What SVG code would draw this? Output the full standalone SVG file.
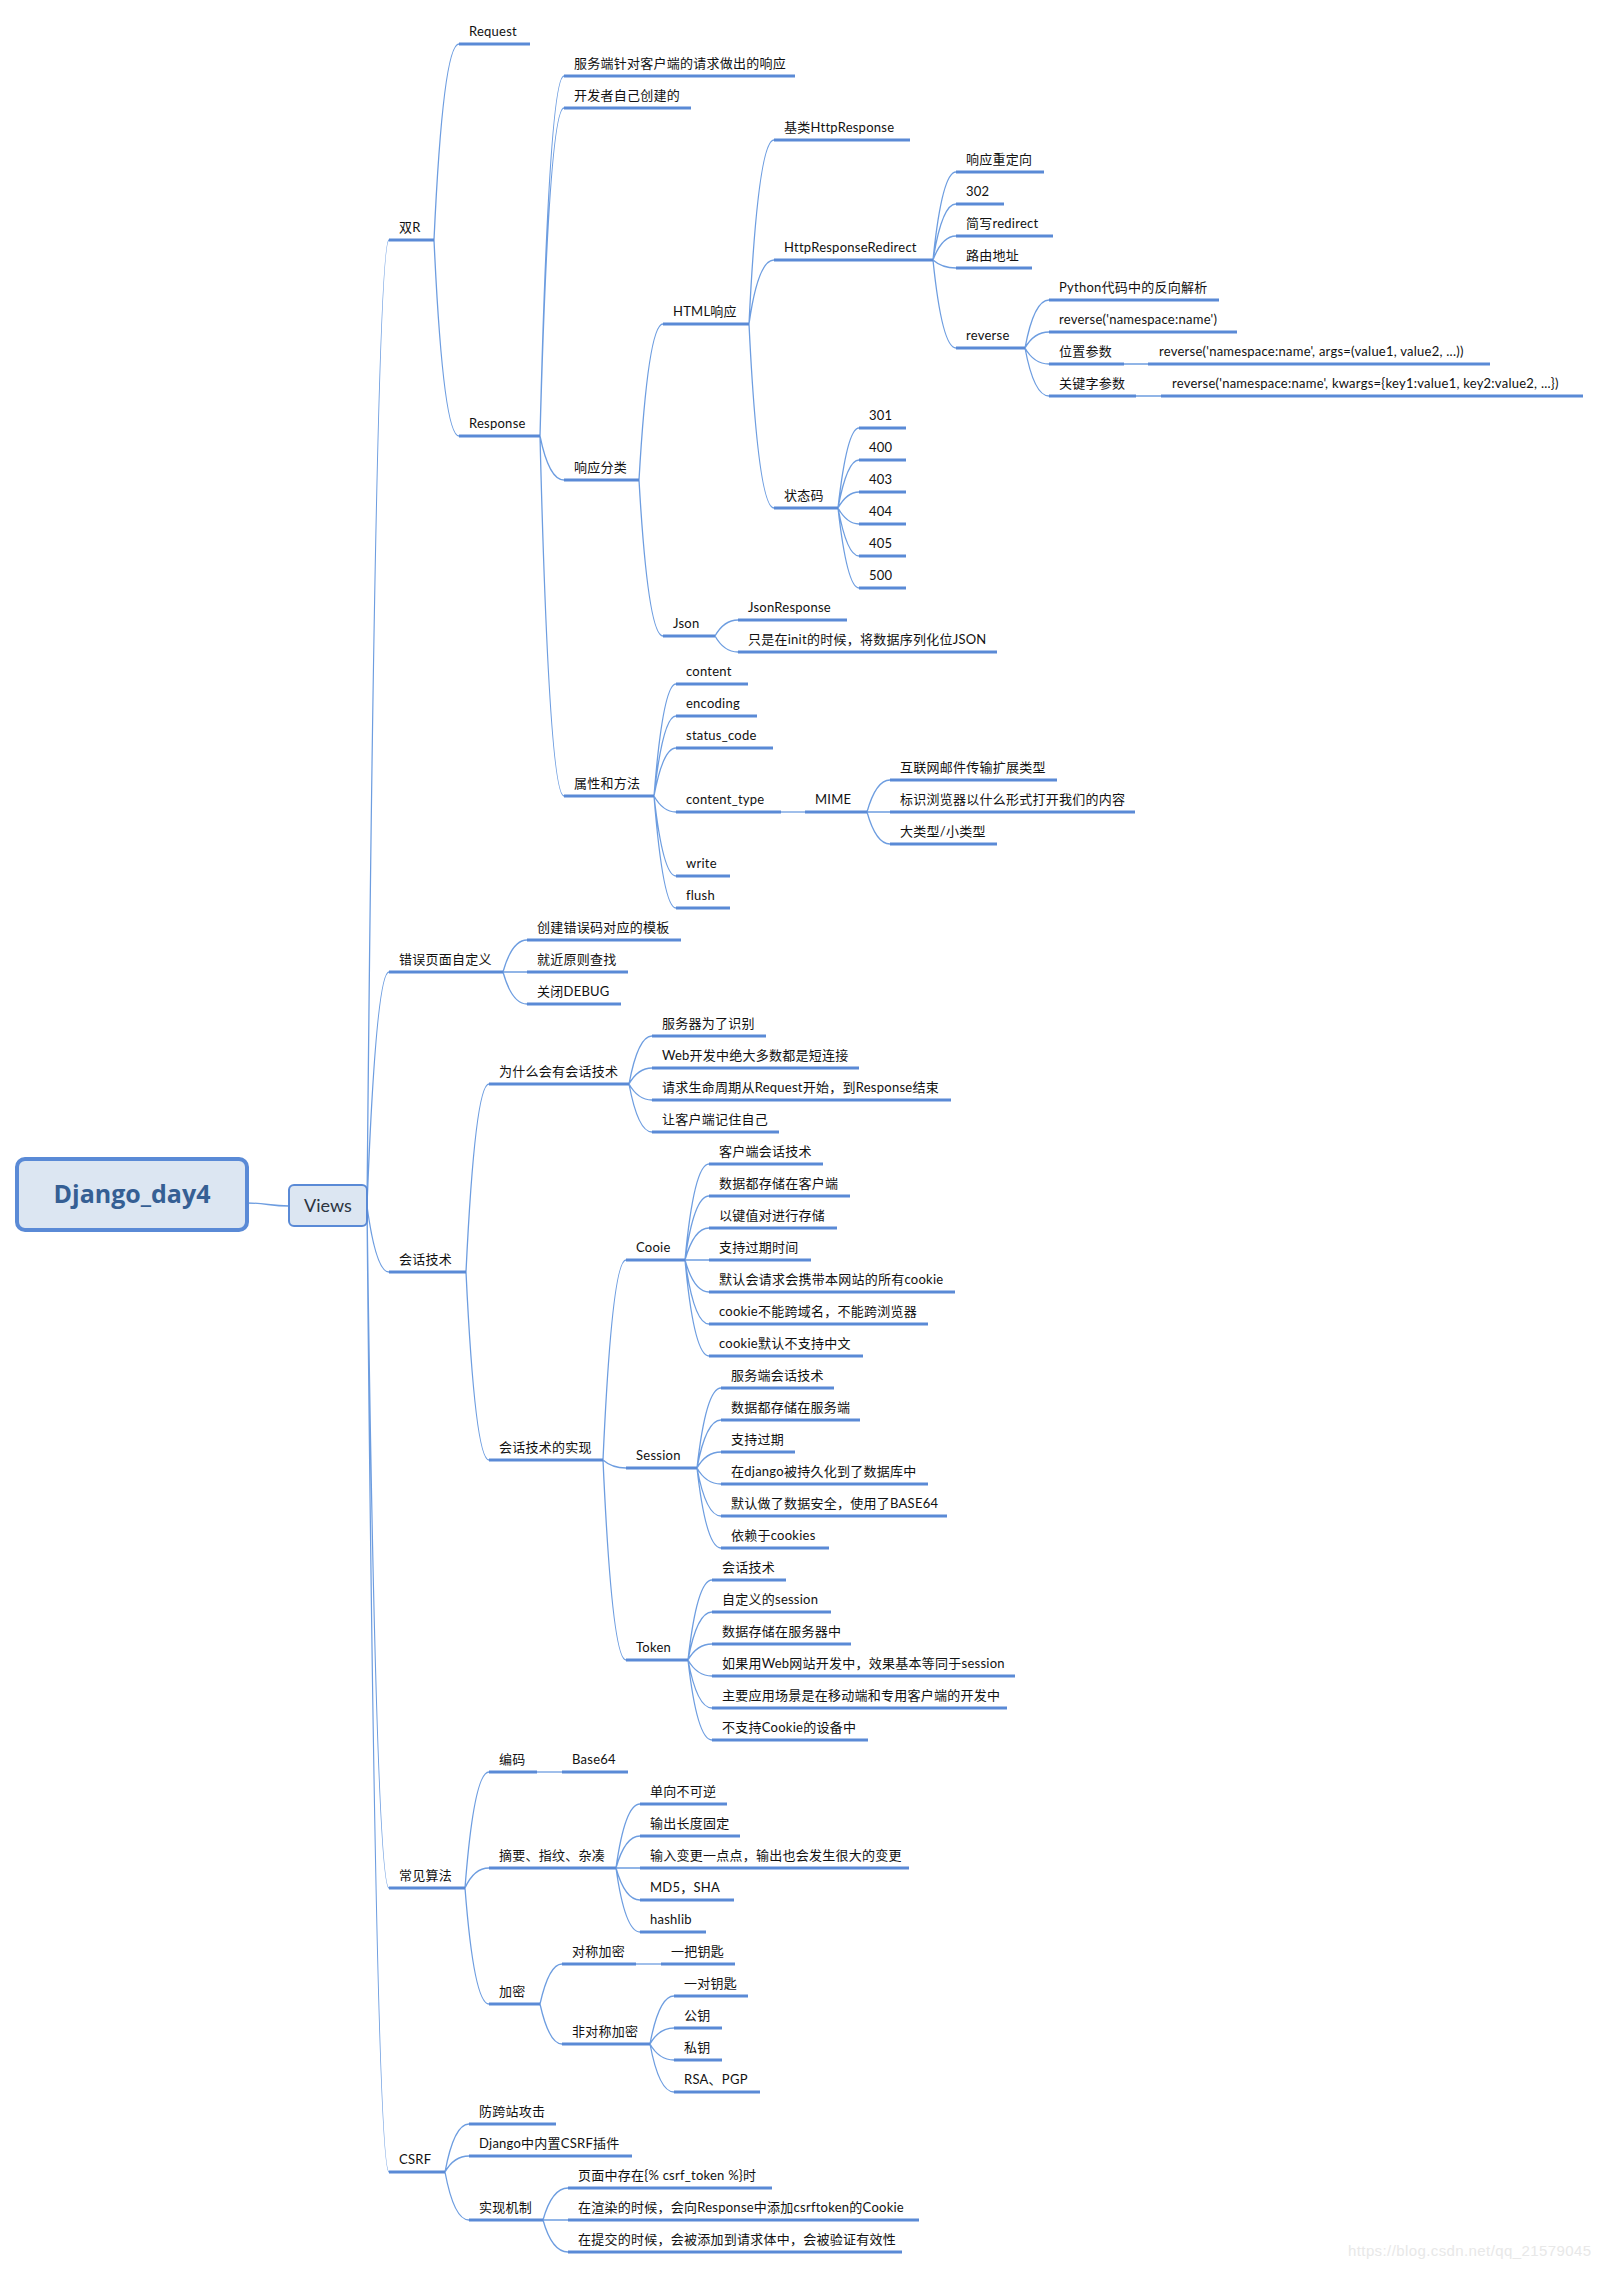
<svg xmlns="http://www.w3.org/2000/svg" width="1601" height="2269" viewBox="0 0 1601 2269">
<style>
.u{stroke:#5a8ad6;stroke-width:3;fill:none}
.c{fill:none;stroke:#6d9de0;stroke-width:1.3}
.t{font-family:Lato,"Noto Sans CJK SC",sans-serif;font-size:13px;letter-spacing:0.25px;fill:#111}
.root{fill:#dce6f2;stroke:#5a8ad6;stroke-width:4}
.main{fill:#dce6f2;stroke:#5a8ad6;stroke-width:2}
</style>
<rect width="1601" height="2269" fill="#fff"/>
<g id="connectors">
<path class="c" d="M247 1203C266 1203 270 1206 289 1206"/>
<path class="c" d="M367 1206Q376 240 389 240M367 1206Q376 972 389 972M367 1206Q376 1272 389 1272M367 1206Q376 1888 389 1888M367 1206Q376 2172 389 2172"/>
<path class="c" d="M434 240Q443 44 459 44M434 240Q443 436 459 436"/>
<path class="c" d="M540 436Q549 76 564 76M540 436Q549 108 564 108M540 436Q549 480 564 480M540 436Q549 796 564 796"/>
<path class="c" d="M639 480Q648 324 663 324M639 480Q648 636 663 636"/>
<path class="c" d="M749 324Q758 140 774 140M749 324Q758 260 774 260M749 324Q758 508 774 508"/>
<path class="c" d="M933 260Q942 172 956 172M933 260Q942 204 956 204M933 260Q942 236 956 236M933 260Q942 268 956 268M933 260Q942 348 956 348"/>
<path class="c" d="M1025 348Q1034 300 1049 300M1025 348Q1034 332 1049 332M1025 348Q1034 364 1049 364M1025 348Q1034 396 1049 396"/>
<path class="c" d="M1124 364L1148 364M1136 396L1161 396"/>
<path class="c" d="M838 508Q847 428 859 428M838 508Q847 460 859 460M838 508Q847 492 859 492M838 508Q847 524 859 524M838 508Q847 556 859 556M838 508Q847 588 859 588"/>
<path class="c" d="M715 636Q724 620 738 620M715 636Q724 652 738 652"/>
<path class="c" d="M654 796Q663 684 676 684M654 796Q663 716 676 716M654 796Q663 748 676 748M654 796Q663 812 676 812M654 796Q663 876 676 876M654 796Q663 908 676 908"/>
<path class="c" d="M781 812L805 812"/>
<path class="c" d="M867 812Q876 780 890 780M867 812L890 812M867 812Q876 844 890 844"/>
<path class="c" d="M503 972Q512 940 527 940M503 972L527 972M503 972Q512 1004 527 1004"/>
<path class="c" d="M466 1272Q475 1084 489 1084M466 1272Q475 1460 489 1460"/>
<path class="c" d="M629 1084Q638 1036 652 1036M629 1084Q638 1068 652 1068M629 1084Q638 1100 652 1100M629 1084Q638 1132 652 1132"/>
<path class="c" d="M603 1460Q612 1260 626 1260M603 1460Q612 1468 626 1468M603 1460Q612 1660 626 1660"/>
<path class="c" d="M685 1260Q694 1164 709 1164M685 1260Q694 1196 709 1196M685 1260Q694 1228 709 1228M685 1260L709 1260M685 1260Q694 1292 709 1292M685 1260Q694 1324 709 1324M685 1260Q694 1356 709 1356"/>
<path class="c" d="M697 1468Q706 1388 721 1388M697 1468Q706 1420 721 1420M697 1468Q706 1452 721 1452M697 1468Q706 1484 721 1484M697 1468Q706 1516 721 1516M697 1468Q706 1548 721 1548"/>
<path class="c" d="M688 1660Q697 1580 712 1580M688 1660Q697 1612 712 1612M688 1660Q697 1644 712 1644M688 1660Q697 1676 712 1676M688 1660Q697 1708 712 1708M688 1660Q697 1740 712 1740"/>
<path class="c" d="M465 1888Q474 1772 489 1772M465 1888Q474 1868 489 1868M465 1888Q474 2004 489 2004"/>
<path class="c" d="M537 1772L562 1772"/>
<path class="c" d="M616 1868Q625 1804 640 1804M616 1868Q625 1836 640 1836M616 1868L640 1868M616 1868Q625 1900 640 1900M616 1868Q625 1932 640 1932"/>
<path class="c" d="M540 2004Q549 1964 562 1964M540 2004Q549 2044 562 2044"/>
<path class="c" d="M636 1964L661 1964"/>
<path class="c" d="M650 2044Q659 1996 674 1996M650 2044Q659 2028 674 2028M650 2044Q659 2060 674 2060M650 2044Q659 2092 674 2092"/>
<path class="c" d="M445 2172Q454 2124 469 2124M445 2172Q454 2156 469 2156M445 2172Q454 2220 469 2220"/>
<path class="c" d="M543 2220Q552 2188 568 2188M543 2220L568 2220M543 2220Q552 2252 568 2252"/>
</g>
<g id="root"><rect class="root" x="17" y="1159" width="230" height="71" rx="8"/><text x="132" y="1203" text-anchor="middle" style="font-family:'Open Sans','Noto Sans CJK SC',sans-serif;font-size:25px;font-weight:bold;fill:#355f94">Django_day4</text></g>
<g id="views"><rect class="main" x="289" y="1185" width="78" height="41" rx="5"/><text x="328" y="1212" text-anchor="middle" style="font-family:Lato,'Noto Sans CJK SC',sans-serif;font-size:18px;fill:#2b3440">Views</text></g>
<g id="n-shuangR"><path class="u" d="M389 240H434"/><text class="t" x="399" y="232">双R</text></g>
<g id="n-request"><path class="u" d="M459 44H530"/><text class="t" x="469" y="36">Request</text></g>
<g id="n-response"><path class="u" d="M459 436H540"/><text class="t" x="469" y="428">Response</text></g>
<g id="n-r1"><path class="u" d="M564 76H795"/><text class="t" x="574" y="68">服务端针对客户端的请求做出的响应</text></g>
<g id="n-r2"><path class="u" d="M564 108H691"/><text class="t" x="574" y="100">开发者自己创建的</text></g>
<g id="n-xyfl"><path class="u" d="M564 480H639"/><text class="t" x="574" y="472">响应分类</text></g>
<g id="n-sxff"><path class="u" d="M564 796H654"/><text class="t" x="574" y="788">属性和方法</text></g>
<g id="n-html"><path class="u" d="M663 324H749"/><text class="t" x="673" y="316">HTML响应</text></g>
<g id="n-json"><path class="u" d="M663 636H715"/><text class="t" x="673" y="628">Json</text></g>
<g id="n-base"><path class="u" d="M774 140H910"/><text class="t" x="784" y="132">基类HttpResponse</text></g>
<g id="n-hrr"><path class="u" d="M774 260H933"/><text class="t" x="784" y="252">HttpResponseRedirect</text></g>
<g id="n-ztm"><path class="u" d="M774 508H838"/><text class="t" x="784" y="500">状态码</text></g>
<g id="n-h1"><path class="u" d="M956 172H1044"/><text class="t" x="966" y="164">响应重定向</text></g>
<g id="n-h2"><path class="u" d="M956 204H1004"/><text class="t" x="966" y="196">302</text></g>
<g id="n-h3"><path class="u" d="M956 236H1053"/><text class="t" x="966" y="228">简写redirect</text></g>
<g id="n-h4"><path class="u" d="M956 268H1032"/><text class="t" x="966" y="260">路由地址</text></g>
<g id="n-reverse"><path class="u" d="M956 348H1025"/><text class="t" x="966" y="340">reverse</text></g>
<g id="n-rv1"><path class="u" d="M1049 300H1219"/><text class="t" x="1059" y="292">Python代码中的反向解析</text></g>
<g id="n-rv2"><path class="u" d="M1049 332H1237"/><text class="t" x="1059" y="324">reverse('namespace:name')</text></g>
<g id="n-rv3"><path class="u" d="M1049 364H1124"/><text class="t" x="1059" y="356">位置参数</text></g>
<g id="n-rv4"><path class="u" d="M1049 396H1136"/><text class="t" x="1059" y="388">关键字参数</text></g>
<g id="n-rv3a"><path class="u" d="M1148 364H1490"/><text class="t" x="1159" y="356">reverse('namespace:name', args=(value1, value2, ...))</text></g>
<g id="n-rv4a"><path class="u" d="M1161 396H1583"/><text class="t" x="1172" y="388">reverse('namespace:name', kwargs={key1:value1, key2:value2, ...})</text></g>
<g id="n-s301"><path class="u" d="M859 428H906"/><text class="t" x="869" y="420">301</text></g>
<g id="n-s400"><path class="u" d="M859 460H906"/><text class="t" x="869" y="452">400</text></g>
<g id="n-s403"><path class="u" d="M859 492H906"/><text class="t" x="869" y="484">403</text></g>
<g id="n-s404"><path class="u" d="M859 524H906"/><text class="t" x="869" y="516">404</text></g>
<g id="n-s405"><path class="u" d="M859 556H906"/><text class="t" x="869" y="548">405</text></g>
<g id="n-s500"><path class="u" d="M859 588H906"/><text class="t" x="869" y="580">500</text></g>
<g id="n-j1"><path class="u" d="M738 620H847"/><text class="t" x="748" y="612">JsonResponse</text></g>
<g id="n-j2"><path class="u" d="M738 652H997"/><text class="t" x="748" y="644">只是在init的时候，将数据序列化位JSON</text></g>
<g id="n-a1"><path class="u" d="M676 684H748"/><text class="t" x="686" y="676">content</text></g>
<g id="n-a2"><path class="u" d="M676 716H757"/><text class="t" x="686" y="708">encoding</text></g>
<g id="n-a3"><path class="u" d="M676 748H773"/><text class="t" x="686" y="740">status_code</text></g>
<g id="n-a4"><path class="u" d="M676 812H781"/><text class="t" x="686" y="804">content_type</text></g>
<g id="n-a5"><path class="u" d="M676 876H730"/><text class="t" x="686" y="868">write</text></g>
<g id="n-a6"><path class="u" d="M676 908H730"/><text class="t" x="686" y="900">flush</text></g>
<g id="n-mime"><path class="u" d="M805 812H867"/><text class="t" x="815" y="804">MIME</text></g>
<g id="n-m1"><path class="u" d="M890 780H1057"/><text class="t" x="900" y="772">互联网邮件传输扩展类型</text></g>
<g id="n-m2"><path class="u" d="M890 812H1135"/><text class="t" x="900" y="804">标识浏览器以什么形式打开我们的内容</text></g>
<g id="n-m3"><path class="u" d="M890 844H997"/><text class="t" x="900" y="836">大类型/小类型</text></g>
<g id="n-err"><path class="u" d="M389 972H503"/><text class="t" x="399" y="964">错误页面自定义</text></g>
<g id="n-e1"><path class="u" d="M527 940H681"/><text class="t" x="537" y="932">创建错误码对应的模板</text></g>
<g id="n-e2"><path class="u" d="M527 972H628"/><text class="t" x="537" y="964">就近原则查找</text></g>
<g id="n-e3"><path class="u" d="M527 1004H621"/><text class="t" x="537" y="996">关闭DEBUG</text></g>
<g id="n-hh"><path class="u" d="M389 1272H466"/><text class="t" x="399" y="1264">会话技术</text></g>
<g id="n-why"><path class="u" d="M489 1084H629"/><text class="t" x="499" y="1076">为什么会有会话技术</text></g>
<g id="n-w1"><path class="u" d="M652 1036H766"/><text class="t" x="662" y="1028">服务器为了识别</text></g>
<g id="n-w2"><path class="u" d="M652 1068H859"/><text class="t" x="662" y="1060">Web开发中绝大多数都是短连接</text></g>
<g id="n-w3"><path class="u" d="M652 1100H951"/><text class="t" x="662" y="1092">请求生命周期从Request开始，到Response结束</text></g>
<g id="n-w4"><path class="u" d="M652 1132H779"/><text class="t" x="662" y="1124">让客户端记住自己</text></g>
<g id="n-impl"><path class="u" d="M489 1460H603"/><text class="t" x="499" y="1452">会话技术的实现</text></g>
<g id="n-cooie"><path class="u" d="M626 1260H685"/><text class="t" x="636" y="1252">Cooie</text></g>
<g id="n-c1"><path class="u" d="M709 1164H823"/><text class="t" x="719" y="1156">客户端会话技术</text></g>
<g id="n-c2"><path class="u" d="M709 1196H850"/><text class="t" x="719" y="1188">数据都存储在客户端</text></g>
<g id="n-c3"><path class="u" d="M709 1228H837"/><text class="t" x="719" y="1220">以键值对进行存储</text></g>
<g id="n-c4"><path class="u" d="M709 1260H811"/><text class="t" x="719" y="1252">支持过期时间</text></g>
<g id="n-c5"><path class="u" d="M709 1292H955"/><text class="t" x="719" y="1284">默认会请求会携带本网站的所有cookie</text></g>
<g id="n-c6"><path class="u" d="M709 1324H928"/><text class="t" x="719" y="1316">cookie不能跨域名，不能跨浏览器</text></g>
<g id="n-c7"><path class="u" d="M709 1356H863"/><text class="t" x="719" y="1348">cookie默认不支持中文</text></g>
<g id="n-session"><path class="u" d="M626 1468H697"/><text class="t" x="636" y="1460">Session</text></g>
<g id="n-se1"><path class="u" d="M721 1388H834"/><text class="t" x="731" y="1380">服务端会话技术</text></g>
<g id="n-se2"><path class="u" d="M721 1420H860"/><text class="t" x="731" y="1412">数据都存储在服务端</text></g>
<g id="n-se3"><path class="u" d="M721 1452H795"/><text class="t" x="731" y="1444">支持过期</text></g>
<g id="n-se4"><path class="u" d="M721 1484H928"/><text class="t" x="731" y="1476">在django被持久化到了数据库中</text></g>
<g id="n-se5"><path class="u" d="M721 1516H947"/><text class="t" x="731" y="1508">默认做了数据安全，使用了BASE64</text></g>
<g id="n-se6"><path class="u" d="M721 1548H829"/><text class="t" x="731" y="1540">依赖于cookies</text></g>
<g id="n-token"><path class="u" d="M626 1660H688"/><text class="t" x="636" y="1652">Token</text></g>
<g id="n-t1"><path class="u" d="M712 1580H786"/><text class="t" x="722" y="1572">会话技术</text></g>
<g id="n-t2"><path class="u" d="M712 1612H831"/><text class="t" x="722" y="1604">自定义的session</text></g>
<g id="n-t3"><path class="u" d="M712 1644H851"/><text class="t" x="722" y="1636">数据存储在服务器中</text></g>
<g id="n-t4"><path class="u" d="M712 1676H1015"/><text class="t" x="722" y="1668">如果用Web网站开发中，效果基本等同于session</text></g>
<g id="n-t5"><path class="u" d="M712 1708H1007"/><text class="t" x="722" y="1700">主要应用场景是在移动端和专用客户端的开发中</text></g>
<g id="n-t6"><path class="u" d="M712 1740H868"/><text class="t" x="722" y="1732">不支持Cookie的设备中</text></g>
<g id="n-algo"><path class="u" d="M389 1888H465"/><text class="t" x="399" y="1880">常见算法</text></g>
<g id="n-enc"><path class="u" d="M489 1772H537"/><text class="t" x="499" y="1764">编码</text></g>
<g id="n-b64"><path class="u" d="M562 1772H628"/><text class="t" x="572" y="1764">Base64</text></g>
<g id="n-digest"><path class="u" d="M489 1868H616"/><text class="t" x="499" y="1860">摘要、指纹、杂凑</text></g>
<g id="n-d1"><path class="u" d="M640 1804H727"/><text class="t" x="650" y="1796">单向不可逆</text></g>
<g id="n-d2"><path class="u" d="M640 1836H740"/><text class="t" x="650" y="1828">输出长度固定</text></g>
<g id="n-d3"><path class="u" d="M640 1868H909"/><text class="t" x="650" y="1860">输入变更一点点，输出也会发生很大的变更</text></g>
<g id="n-d4"><path class="u" d="M640 1900H734"/><text class="t" x="650" y="1892">MD5，SHA</text></g>
<g id="n-d5"><path class="u" d="M640 1932H706"/><text class="t" x="650" y="1924">hashlib</text></g>
<g id="n-crypt"><path class="u" d="M489 2004H540"/><text class="t" x="499" y="1996">加密</text></g>
<g id="n-sym"><path class="u" d="M562 1964H636"/><text class="t" x="572" y="1956">对称加密</text></g>
<g id="n-sym1"><path class="u" d="M661 1964H735"/><text class="t" x="671" y="1956">一把钥匙</text></g>
<g id="n-asym"><path class="u" d="M562 2044H650"/><text class="t" x="572" y="2036">非对称加密</text></g>
<g id="n-as1"><path class="u" d="M674 1996H748"/><text class="t" x="684" y="1988">一对钥匙</text></g>
<g id="n-as2"><path class="u" d="M674 2028H722"/><text class="t" x="684" y="2020">公钥</text></g>
<g id="n-as3"><path class="u" d="M674 2060H722"/><text class="t" x="684" y="2052">私钥</text></g>
<g id="n-as4"><path class="u" d="M674 2092H760"/><text class="t" x="684" y="2084">RSA、PGP</text></g>
<g id="n-csrf"><path class="u" d="M389 2172H445"/><text class="t" x="399" y="2164">CSRF</text></g>
<g id="n-cs1"><path class="u" d="M469 2124H556"/><text class="t" x="479" y="2116">防跨站攻击</text></g>
<g id="n-cs2"><path class="u" d="M469 2156H632"/><text class="t" x="479" y="2148">Django中内置CSRF插件</text></g>
<g id="n-cs3"><path class="u" d="M469 2220H543"/><text class="t" x="479" y="2212">实现机制</text></g>
<g id="n-cm1"><path class="u" d="M568 2188H772"/><text class="t" x="578" y="2180">页面中存在{% csrf_token %}时</text></g>
<g id="n-cm2"><path class="u" d="M568 2220H919"/><text class="t" x="578" y="2212">在渲染的时候，会向Response中添加csrftoken的Cookie</text></g>
<g id="n-cm3"><path class="u" d="M568 2252H902"/><text class="t" x="578" y="2244">在提交的时候，会被添加到请求体中，会被验证有效性</text></g>
<text x="1348" y="2256" textLength="243" style="font-family:'Liberation Sans',sans-serif;font-size:15px;fill:#e8e8e8">https://blog.csdn.net/qq_21579045</text>
</svg>
